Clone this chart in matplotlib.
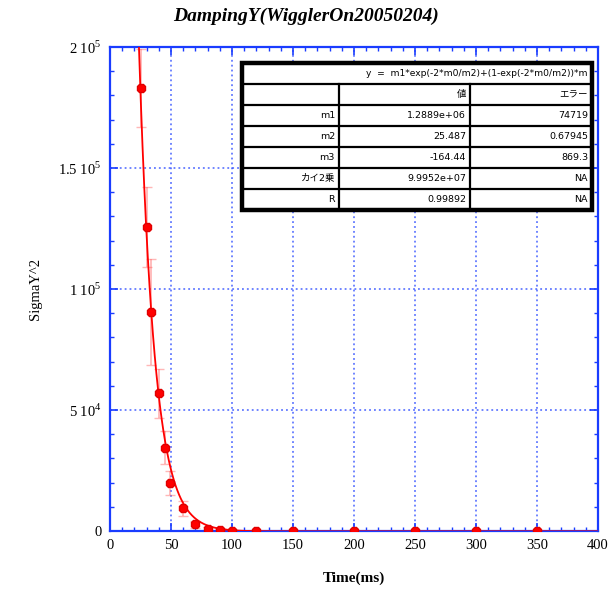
import matplotlib.pyplot as plt
import numpy as np
from matplotlib.ticker import MultipleLocator, FuncFormatter

# measured beam size vs time
time_ms = [25, 30, 34, 40, 45, 49, 60, 70, 80, 90, 100, 120, 150, 200, 250, 300, 350]
sigma2 = [183000, 125500, 90400, 56900, 34500, 19800, 9400, 2800, 1000, 400, 50,
          0, 0, 0, 0, 0, 0]
sigma2_err = [16000, 16500, 22000, 10000, 7000, 5000, 3000, 1500, 800, 500, 300,
              200, 150, 150, 150, 150, 150]

# fit parameters y = m1*exp(-2*m0/m2)+(1-exp(-2*m0/m2))*m3
m1, m2, m3 = 1.2889e6, 25.487, -164.44

fit_rows = [("m1", "1.2889e+06", "74719"),
            ("m2", "25.487", "0.67945"),
            ("m3", "-164.44", "869.3"),
            ("カイ2乗", "9.9952e+07", "NA"),
            ("R", "0.99892", "NA")]
fit_header = ("", "値", "エラー")
fit_formula = "y  =  m1*exp(-2*m0/m2)+(1-exp(-2*m0/m2))*m"

blue = "#1a3cff"
red = "#ff0000"

fig = plt.figure(figsize=(6.13, 5.95), dpi=100)
ax = fig.add_axes([110/613, 1 - 531/595, 488/613, 484/595])

tt = np.linspace(20, 400, 800)
e = np.exp(-2 * tt / m2)
ax.plot(tt, m1 * e + (1 - e) * m3, color=red, lw=1.3, zorder=3)
ax.errorbar(time_ms, sigma2, yerr=sigma2_err, fmt="none", ecolor="#ff6060",
            elinewidth=1.3, capsize=3.5, alpha=0.45, zorder=2)
ax.plot(time_ms, sigma2, "8", color=red, markersize=6.5, mec="#e00000", zorder=4)

ax.set_xlim(0, 400)
ax.set_ylim(0, 2e5)
ax.xaxis.set_major_locator(MultipleLocator(50))
ax.xaxis.set_minor_locator(MultipleLocator(10))
ax.yaxis.set_major_locator(MultipleLocator(5e4))
ax.yaxis.set_minor_locator(MultipleLocator(1e4))


def yfmt(v, pos):
    if v == 0:
        return "0"
    if v < 1e5:
        return r"%g 10$^{\mathregular{4}}$" % (v / 1e4)
    return r"%g 10$^{\mathregular{5}}$" % (v / 1e5)


ax.yaxis.set_major_formatter(FuncFormatter(yfmt))
ax.tick_params(which="both", direction="in", top=True, right=True, color=blue,
               labelsize=10.5, pad=6)
ax.tick_params(which="major", length=6, width=1.2)
ax.tick_params(which="minor", length=3, width=1.0)
for lab in ax.get_xticklabels() + ax.get_yticklabels():
    lab.set_fontfamily("Liberation Serif")
for s in ax.spines.values():
    s.set_color(blue)
    s.set_linewidth(1.6)
ax.grid(True, which="major", color=blue, ls=(0, (1.2, 2.0)), lw=1.1, alpha=0.8)

ax.set_xlabel("Time(ms)", family="Liberation Serif", fontweight="bold",
              fontsize=11, labelpad=14)
ax.set_ylabel("SigmaY^2", family="Liberation Serif", fontsize=10.5, labelpad=12)
fig.text(0.5, 1 - 16/595, "DampingY(WigglerOn20050204)", ha="center", va="center",
         family="Liberation Serif", fontweight="bold", style="italic", fontsize=14)

# parameter box
tx0, tx1, ty0, ty1 = 242/613, 592/613, 1 - 210/595, 1 - 63/595
tax = fig.add_axes([tx0, ty0, tx1 - tx0, ty1 - ty0])
tax.set_xlim(0, 350)
tax.set_ylim(0, 147)
tax.axis("off")
tax.add_patch(plt.Rectangle((0, 0), 350, 147, facecolor="white", edgecolor="black",
                            lw=3.2, clip_on=False, zorder=1))
row_h = 21
head_h = 147 - 6 * row_h
col_x = [0, 97, 228, 350]
tfont = ["DejaVu Sans", "Noto Sans CJK JP"]
for i in range(1, 7):
    tax.axhline(i * row_h, color="black", lw=1.6, zorder=2)
for cx in col_x[1:3]:
    tax.plot([cx, cx], [0, 6 * row_h], color="black", lw=1.6, zorder=2)
tax.text(346, 6 * row_h + head_h / 2, fit_formula, ha="right", va="center",
         fontsize=6.6, family=tfont)
for r, row in enumerate([fit_header] + fit_rows):
    yc = (5 - r) * row_h + row_h / 2
    for c, txt in enumerate(row):
        tax.text(col_x[c + 1] - 4, yc, txt, ha="right", va="center",
                 fontsize=6.8, family=tfont)

fig.savefig("out.png", dpi=100)
